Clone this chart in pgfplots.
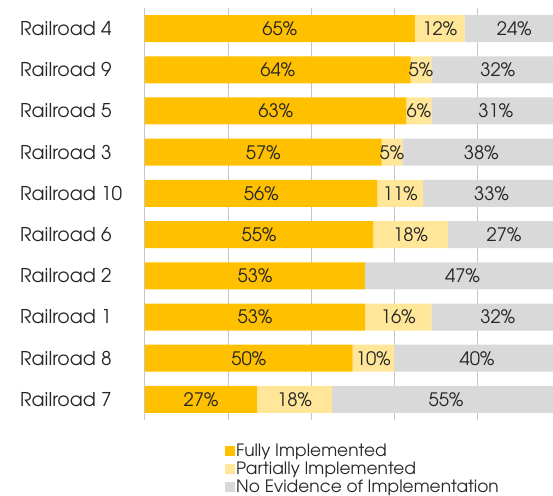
\documentclass[border=0pt]{standalone}
\usepackage{fontspec}
\setmainfont{TeX Gyre Adventor}
\usepackage{pgfplots}
\usepackage{pgfplotstable}
\pgfplotsset{compat=1.18}
\definecolor{cfull}{HTML}{FFC000}
\definecolor{cpart}{HTML}{FFE699}
\definecolor{cnone}{HTML}{D9D9D9}
\definecolor{cgrid}{HTML}{C6C6C6}
\definecolor{ctext}{HTML}{262626}
\pgfplotstableread{
y full part none
0 65 12 24
1 64 5 32
2 63 6 31
3 57 5 38
4 56 11 33
5 55 18 27
6 53 0 47
7 53 16 32
8 50 10 40
9 27 18 55
}\data
\begin{document}
\begin{tikzpicture}
\useasboundingbox (-145pt,-75pt) rectangle (408pt,420pt);
\pgfplotsset{common/.style={
  at={(0pt,0pt)}, anchor=south west, scale only axis,
  width=408pt, height=412pt,
  xmin=0, xmax=98.3, ymin=-0.5, ymax=9.5, y dir=reverse}}
\begin{axis}[common,
  xbar stacked, bar width=27pt,
  ytick={0,...,9},
  yticklabels={Railroad 4, Railroad 9, Railroad 5, Railroad 3, Railroad 10, Railroad 6, Railroad 2, Railroad 1, Railroad 8, Railroad 7},
  yticklabel style={anchor=west, xshift=-125pt, inner sep=0pt, font=\fontsize{19}{22}\selectfont, text=ctext},
  xtick={0,20,40,60,80}, xticklabels={},
  xmajorgrids, major grid style={draw=cgrid, line width=1pt},
  major tick length=0pt, axis line style={draw=none},
  legend style={at={(0.196,-0.055)}, anchor=north west, draw=none, fill=none,
    font=\fontsize{17}{19}\selectfont, text=ctext, row sep=2pt, inner sep=0pt,
    nodes={inner sep=1pt}},
  legend cell align=left,
  legend image code/.code={\fill[#1] (0pt,-5pt) rectangle (10pt,5pt);},
]
\addplot[fill=cfull, draw=none] table[x=full, y=y]{\data};
\addlegendentry{Fully Implemented}
\addplot[fill=cpart, draw=none] table[x=part, y=y]{\data};
\addlegendentry{Partially Implemented}
\addplot[fill=cnone, draw=none] table[x=none, y=y]{\data};
\addlegendentry{No Evidence of Implementation}
\end{axis}
\begin{axis}[common, hide axis,
  point meta=explicit,
  /pgf/number format/assume math mode=true,
  nodes near coords={\pgfmathprintnumber{\pgfplotspointmeta}\%},
  nodes near coords align={center},
  every node near coord/.append style={font=\fontsize{18.5}{22}\selectfont, text=ctext, anchor=center},
]
\addplot[draw=none, mark=none] table[x expr=\thisrow{full}/2, y=y, meta=full]{\data};
\addplot[draw=none, mark=none, unbounded coords=discard,
  x filter/.expression={\thisrow{part}<1 ? nan : x}] table[x expr=\thisrow{full}+\thisrow{part}/2, y=y, meta=part]{\data};
\addplot[draw=none, mark=none] table[x expr=\thisrow{full}+\thisrow{part}+\thisrow{none}/2, y=y, meta=none]{\data};
\end{axis}
\end{tikzpicture}
\end{document}
